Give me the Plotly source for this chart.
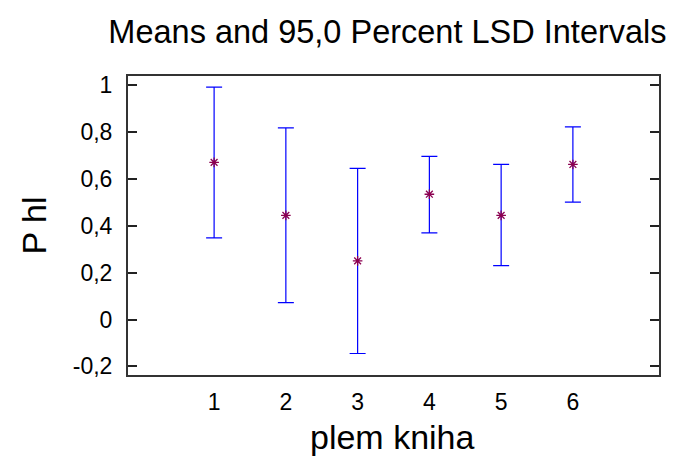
import plotly.graph_objects as go

groups = [1, 2, 3, 4, 5, 6]
means = [0.670, 0.444, 0.250, 0.534, 0.444, 0.661]
upper = [0.991, 0.817, 0.644, 0.695, 0.661, 0.821]
lower = [0.348, 0.072, -0.145, 0.369, 0.230, 0.500]
ytick_vals = [-0.2, 0, 0.2, 0.4, 0.6, 0.8, 1]
ytick_text = ["-0,2", "0", "0,2", "0,4", "0,6", "0,8", "1"]

err_plus = [u - m for u, m in zip(upper, means)]
err_minus = [m - l for m, l in zip(means, lower)]

fig = go.Figure()
fig.add_trace(go.Scatter(
    x=groups, y=means, mode="markers",
    marker=dict(symbol="asterisk-open", size=8, color="#8B0050",
                line=dict(color="#8B0050", width=1.3)),
    error_y=dict(type="data", symmetric=False, array=err_plus, arrayminus=err_minus,
                 color="#0000FF", thickness=1.2, width=8),
    showlegend=False,
))

font = "Liberation Sans, Arial, sans-serif"
fig.update_layout(
    width=684, height=458,
    margin=dict(l=128, r=25, t=76, b=83),
    paper_bgcolor="white", plot_bgcolor="white",
    font=dict(family=font, color="black", size=23),
    title=dict(text="Means and 95,0 Percent LSD Intervals", x=0.5665, xanchor="center",
               y=1 - 32 / 458, yanchor="middle", font=dict(size=32.5)),
    xaxis=dict(range=[-0.2, 7.2], tickvals=groups, ticks="", showgrid=False, zeroline=False,
               showline=True, linecolor="#333333", linewidth=2, mirror=True,
               ticklabelstandoff=5, tickfont=dict(size=23)),
    yaxis=dict(range=[-0.2366, 1.038], tickvals=ytick_vals, ticktext=ytick_text,
               ticks="inside", ticklen=9, tickwidth=1.5, tickcolor="#222222",
               showgrid=False, zeroline=False,
               showline=True, linecolor="#333333", linewidth=2, mirror="ticks",
               ticklabelstandoff=9, tickfont=dict(size=23)),
    annotations=[
        dict(text="plem kniha", xref="paper", yref="paper", x=(392 - 128) / 531,
             y=-(437 - 375.3) / 299.6, xanchor="center", yanchor="middle",
             showarrow=False, font=dict(size=34)),
        dict(text="P hl", xref="paper", yref="paper", x=-(128 - 33) / 531,
             y=0.5, xanchor="center", yanchor="middle", textangle=-90,
             showarrow=False, font=dict(size=34)),
    ],
)

fig.write_html("out.html")
